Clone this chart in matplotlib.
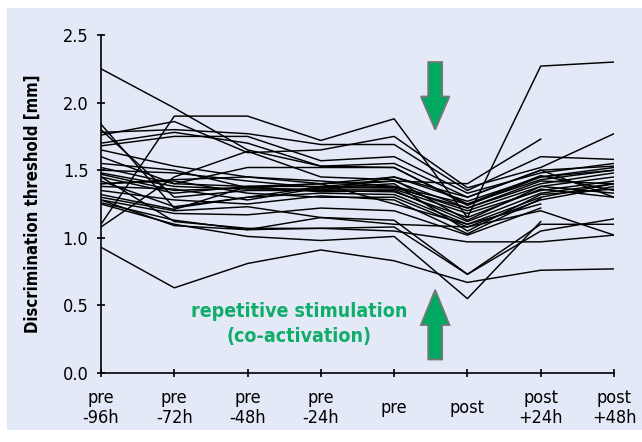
import numpy as np
import matplotlib
matplotlib.use('Agg')
import matplotlib.pyplot as plt
from matplotlib.patches import Rectangle, FancyArrow

plt.rcParams['font.family'] = ['DejaVu Sans']
plt.rcParams['font.stretch'] = 'condensed'

# =========================== DATA =========================================
timepoints = ['pre\n-96h', 'pre\n-72h', 'pre\n-48h', 'pre\n-24h',
              'pre', 'post', 'post\n+24h', 'post\n+48h']
nan = np.nan

# discrimination thresholds [mm], one row per subject
subjects = [
    [2.25, 1.96, 1.65, 1.53, 1.52, 1.24, 1.45, 1.50],
    [1.10, 1.90, 1.90, 1.72, 1.88, 1.15, 2.27, 2.30],
    [0.93, 0.63, 0.81, 0.91, 0.83, 0.67, 0.76, 0.77],
    [1.84, 1.22, 1.30, 1.38, 1.42, 1.40, 1.73, nan],
    [1.78, 1.80, 1.77, 1.69, 1.69, 1.35, 1.60, 1.58],
    [1.76, 1.86, 1.63, 1.65, 1.75, 1.37, 1.52, 1.77],
    [1.70, 1.78, 1.70, 1.53, 1.55, 1.30, 1.50, 1.53],
    [1.68, 1.75, 1.75, 1.57, 1.60, 1.33, 1.48, 1.55],
    [1.80, 1.30, 1.35, 1.35, 1.45, 1.27, 1.45, 1.52],
    [1.60, 1.40, 1.52, 1.52, 1.52, 1.25, 1.43, 1.50],
    [1.55, 1.50, 1.37, 1.40, 1.42, 1.22, 1.40, 1.48],
    [1.50, 1.48, 1.42, 1.37, 1.38, 1.20, 1.38, 1.45],
    [1.48, 1.38, 1.36, 1.36, 1.36, 1.18, 1.35, 1.42],
    [1.45, 1.33, 1.38, 1.34, 1.35, 1.12, 1.33, 1.40],
    [1.42, 1.23, 1.30, 1.33, 1.32, 1.10, 1.30, 1.40],
    [1.40, 1.42, 1.33, 1.30, 1.30, 1.08, 1.28, 1.38],
    [1.38, 1.36, 1.28, 1.37, 1.40, 1.05, 1.32, 1.36],
    [1.35, 1.28, 1.25, 1.31, 1.28, 1.03, 1.29, nan],
    [1.32, 1.21, 1.38, 1.40, 1.25, 1.10, 1.25, nan],
    [1.08, 1.45, 1.64, 1.45, 1.43, 1.13, 1.38, 1.33],
    [1.28, 1.18, 1.17, 1.22, 1.20, 1.02, 1.22, nan],
    [1.26, 1.13, 1.06, 1.15, 1.13, 0.73, 1.10, 1.10],
    [1.25, 1.10, 1.01, 0.98, 1.01, 0.55, 1.12, nan],
    [1.28, 1.09, 1.06, 1.07, 1.08, 0.73, 1.05, 1.14],
    [1.45, 1.12, 1.07, 1.07, 1.05, 0.97, 0.97, 1.02],
    [1.30, 1.20, 1.23, 1.15, 1.10, 1.08, 1.20, 1.02],
    [1.52, 1.40, 1.38, 1.38, 1.37, 1.22, 1.42, 1.40],
    [1.47, 1.35, 1.37, 1.35, 1.34, 1.15, 1.36, 1.30],
    [1.40, 1.43, 1.45, 1.40, 1.45, 1.30, 1.50, 1.30],
    [1.65, 1.53, 1.45, 1.42, 1.38, 1.25, 1.46, 1.35],
]

annotation = 'repetitive stimulation\n(co-activation)'
ylabel = 'Discrimination threshold [mm]'

bg = '#e3e9f6'
green = '#0fac6a'

# =========================== PLOT =========================================
fig = plt.figure(figsize=(6.42, 4.42), dpi=100)
panel = Rectangle((7 / 642, 1 - 430 / 442), 1, 422 / 442,
                  transform=fig.transFigure, facecolor=bg,
                  edgecolor='none', zorder=-10)
fig.add_artist(panel)

ax = fig.add_axes([101 / 642, 1 - 373 / 442, 513 / 642, 338 / 442])
ax.set_facecolor('none')

x = np.arange(len(timepoints))
for row in subjects:
    ax.plot(x, row, color='black', lw=1.05)

ax.set_xlim(0, 7)
ax.set_ylim(0, 2.5)
ax.set_yticks(np.arange(0, 2.51, 0.5))
ax.set_yticklabels([f'{v:.1f}' for v in np.arange(0, 2.51, 0.5)])
ax.set_xticks(x)
ax.set_xticklabels(timepoints, va='center', linespacing=1.15)
for s in ['top', 'right']:
    ax.spines[s].set_visible(False)
for s in ['left', 'bottom']:
    ax.spines[s].set_linewidth(1.2)
ax.tick_params(axis='both', direction='inout', length=6, width=1.2,
               labelsize=13)
ax.tick_params(axis='x', pad=22)
ax.tick_params(axis='y', pad=6)

fig.text(33 / 642, 1 - 204 / 442, ylabel, rotation=90, ha='center',
         va='center', fontsize=12, fontweight='bold')

ax.text(2.70, 0.36, annotation, color=green, fontsize=14, fontweight='bold',
        ha='center', va='center', linespacing=1.4)

# arrows (down before, up below)
ax.add_patch(FancyArrow(4.56, 2.30, 0, -0.50, width=0.19, head_width=0.39,
                        head_length=0.245, length_includes_head=True,
                        facecolor='#00a862', edgecolor='#777777', lw=1.3))
ax.add_patch(FancyArrow(4.56, 0.10, 0, 0.515, width=0.19, head_width=0.39,
                        head_length=0.26, length_includes_head=True,
                        facecolor='#00a862', edgecolor='#777777', lw=1.3))

fig.savefig('out.png', dpi=100)
